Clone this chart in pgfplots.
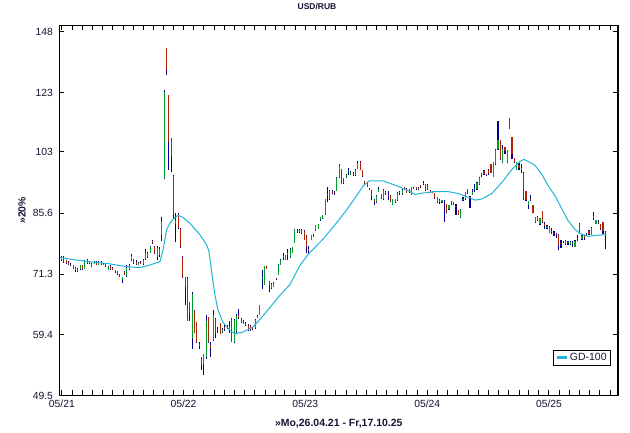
\documentclass[border=0pt]{standalone}
\usepackage{fontspec}
\setmainfont{Liberation Sans}
\usepackage{pgfplots}
\usepackage{pgfplotstable}
\pgfplotsset{compat=1.18}
\definecolor{upgreen}{RGB}{0,160,40}
\definecolor{downred}{RGB}{175,35,0}
\definecolor{wickblue}{RGB}{0,0,140}
\definecolor{macyan}{RGB}{30,180,215}
\definecolor{txt}{RGB}{20,20,50}

% weekly bars: week index, open, high, low, close
\pgfplotstableread{
i o h l c
0 74.5 75.3 74.2 75.0
1 75.0 75.2 73.8 74.0
2 74.3 74.5 73.5 73.7
3 73.9 74.1 73.4 73.5
4 73.5 73.7 73.1 73.2
5 73.2 73.3 72.4 72.5
6 72.6 72.8 71.7 72.1
7 71.9 72.6 71.8 72.5
8 72.5 73.3 72.2 73.2
9 73.2 73.3 72.3 72.4
10 72.5 74.3 72.4 74.2
11 74.4 74.6 73.6 73.7
12 73.8 74.2 73.6 73.9
13 73.0 73.7 72.9 73.6
14 73.6 74.2 73.5 74.0
15 74.0 74.1 73.2 73.3
16 73.3 74.1 73.2 74.0
17 74.0 74.1 73.4 73.5
18 73.3 73.8 73.2 73.6
19 73.5 73.6 72.9 73.0
20 72.3 73.0 72.2 72.9
21 73.0 73.3 72.3 72.5
22 72.6 72.8 72.1 72.2
23 72.1 72.2 71.6 71.7
24 71.9 72.0 71.2 71.3
25 71.3 71.4 70.8 70.9
26 70.0 70.8 69.4 70.6
27 71.8 71.9 71.2 71.3
28 71.0 73.2 70.7 72.6
29 72.5 73.6 72.3 73.4
30 74.3 75.7 74.1 75.2
31 74.5 74.7 73.6 73.8
32 74.0 74.3 73.4 73.6
33 73.3 73.9 73.2 73.8
34 74.0 74.2 73.5 73.6
35 73.6 74.7 73.4 74.5
36 74.6 76.9 74.4 76.1
37 75.0 76.2 74.9 76.1
38 76.1 77.6 76.0 77.4
39 78.8 79.0 78.1 78.2
40 77.3 77.5 75.8 75.9
41 75.0 77.5 74.3 77.2
42 75.5 77.3 75.0 77.0
43 80.1 84.6 78.9 83.3
44 95.3 123.9 95.0 123.5
45 140.7 140.8 130.0 131.6
46 122.1 122.2 97.4 106.0
47 107.3 107.4 97.1 101.6
48 95.9 96.0 84.2 85.5
49 84.0 85.8 78.6 83.0
50 85.5 85.7 81.6 81.8
51 81.6 81.8 77.2 77.3
52 75.0 75.2 70.5 70.6
53 70.6 70.8 64.9 68.5
54 70.4 70.6 61.9 62.0
55 65.5 65.6 62.0 63.5
56 58.9 67.5 56.9 67.2
57 63.9 64.0 59.7 59.8
58 61.7 61.8 58.0 58.1
59 57.8 58.1 57.0 57.5
60 55.5 55.6 53.4 54.2
61 54.4 56.0 52.7 56.0
62 55.5 63.1 55.3 62.0
63 62.6 62.7 58.0 58.1
64 57.6 58.1 55.5 57.1
65 58.4 64.0 58.3 63.1
66 62.3 62.4 58.9 59.8
67 60.5 60.9 59.8 60.2
68 61.5 61.6 59.5 59.6
69 59.9 60.6 59.8 60.3
70 60.8 61.2 60.0 60.5
71 61.0 61.2 60.4 60.6
72 60.4 61.9 59.8 60.8
73 62.3 62.4 58.1 58.2
74 58.2 62.3 58.0 62.2
75 60.0 63.3 59.7 62.8
76 63.1 64.3 62.3 62.4
77 62.3 62.5 61.6 61.7
78 62.0 62.2 61.3 61.4
79 61.5 61.8 61.0 61.2
80 61.2 61.3 60.1 60.3
81 61.0 61.1 60.1 60.2
82 60.8 60.9 60.3 60.4
83 60.6 62.3 60.5 62.2
84 62.5 63.1 62.4 62.8
85 63.1 65.0 63.0 64.9
86 70.3 72.2 68.2 70.6
87 69.1 73.1 69.0 73.0
88 73.0 73.1 72.4 72.5
89 69.8 69.9 67.5 68.9
90 68.3 69.4 68.2 69.3
91 68.7 69.6 68.6 69.5
92 70.4 70.5 70.1 70.2
93 71.2 73.5 71.1 73.4
94 73.4 74.6 73.3 74.5
95 75.0 75.9 74.4 75.3
96 74.5 75.6 74.4 75.5
97 75.5 76.8 74.5 75.9
98 75.0 77.1 74.9 77.0
99 76.1 77.4 76.0 77.3
100 78.4 81.6 78.3 81.5
101 81.0 81.6 80.8 81.3
102 81.5 81.6 80.8 80.9
103 81.4 81.6 80.4 80.6
104 81.3 81.4 79.0 79.1
105 80.0 80.2 75.9 77.4
106 77.0 77.7 75.7 76.5
107 79.1 80.3 79.0 80.2
108 80.3 80.4 79.7 79.8
109 81.4 82.7 81.3 82.6
110 81.7 82.9 81.6 82.8
111 83.8 84.7 83.7 84.6
112 84.3 85.3 84.2 85.2
113 85.4 89.4 85.3 89.3
114 90.5 92.6 88.5 90.8
115 89.3 91.8 89.2 91.7
116 91.6 91.8 90.7 91.0
117 91.2 91.6 90.4 91.0
118 91.7 95.4 91.6 95.3
119 95.4 99.2 95.3 99.1
120 97.7 97.9 93.4 93.5
121 95.1 95.2 93.6 93.7
122 95.4 96.3 95.3 96.2
123 97.0 98.0 96.2 97.3
124 96.2 97.2 96.1 97.1
125 96.5 96.9 95.9 96.6
126 96.0 97.8 95.9 97.6
127 97.8 100.1 97.7 99.5
128 100.0 100.1 97.4 97.5
129 97.5 97.6 95.6 95.7
130 94.3 94.4 93.5 93.6
131 94.0 94.1 92.6 92.7
132 92.3 92.4 91.9 92.0
133 91.8 91.9 89.0 90.1
134 89.0 89.4 87.8 88.6
135 88.5 90.4 88.4 90.3
136 91.3 92.6 91.2 92.2
137 90.7 90.8 89.5 89.6
138 89.3 92.0 89.2 91.9
139 91.0 91.7 90.4 91.2
140 90.5 91.7 89.0 90.2
141 90.3 90.4 88.7 88.8
142 87.8 89.4 87.7 89.3
143 88.5 89.4 88.4 89.3
144 89.0 91.2 88.9 91.1
145 91.0 91.6 90.5 91.3
146 90.7 92.0 90.6 91.9
147 92.6 92.7 92.0 92.1
148 92.0 92.3 90.9 91.0
149 92.0 92.1 91.1 91.2
150 90.6 92.7 90.5 92.6
151 92.3 92.7 92.0 92.4
152 92.6 92.7 91.9 92.0
153 92.2 92.6 91.9 92.3
154 93.1 93.2 92.5 92.6
155 93.6 94.3 93.1 93.8
156 93.4 93.5 91.7 91.8
157 93.2 93.4 91.9 92.0
158 91.7 91.8 90.9 91.0
159 91.4 91.5 90.9 91.0
160 90.9 91.0 89.5 89.6
161 88.5 89.9 88.4 89.8
162 89.0 89.3 88.0 88.7
163 88.5 89.1 88.4 89.0
164 88.4 89.0 83.3 88.1
165 88.0 88.1 85.8 85.9
166 86.7 87.8 86.6 87.7
167 88.8 88.9 87.9 88.0
168 88.5 88.6 87.7 87.8
169 87.5 88.0 85.2 87.2
170 86.4 86.5 85.1 85.2
171 84.6 86.7 84.5 86.6
172 89.3 89.8 88.8 89.5
173 89.3 91.3 89.2 91.2
174 92.0 92.1 90.8 90.9
175 90.0 90.1 86.9 89.6
176 90.6 92.0 90.5 91.4
177 92.3 93.4 91.2 92.5
178 92.0 94.0 91.9 93.9
179 93.4 95.4 93.3 95.3
180 96.0 96.8 95.6 96.3
181 97.3 97.4 96.2 96.3
182 96.3 96.4 95.8 96.1
183 97.4 97.7 96.2 96.8
184 99.2 99.3 96.7 96.8
185 95.6 99.9 95.5 99.8
186 99.2 103.8 99.1 103.7
187 103.8 112.9 103.6 106.6
188 106.6 106.7 100.6 100.7
189 99.8 105.3 99.7 103.8
190 104.4 104.5 102.2 103.2
191 99.8 103.6 99.7 103.5
192 113.9 114.0 110.4 110.5
193 107.6 107.7 100.7 102.5
194 101.0 101.2 99.7 99.9
195 97.6 100.0 97.5 99.8
196 99.0 99.5 97.6 98.2
197 98.0 99.2 96.8 97.5
198 96.8 96.9 89.2 89.3
199 91.5 91.7 88.9 89.0
200 87.8 88.9 86.8 88.8
201 89.5 90.4 88.8 89.2
202 87.8 87.9 85.6 85.7
203 83.3 84.7 83.2 84.6
204 83.8 84.9 83.7 84.8
205 82.8 84.4 82.7 84.3
206 86.2 86.3 83.2 83.3
207 82.9 83.3 81.7 82.3
208 81.8 82.6 81.7 82.5
209 80.8 82.3 80.7 82.2
210 81.3 81.8 80.5 81.0
211 80.7 81.1 79.9 80.4
212 80.5 80.8 79.6 80.2
213 80.3 80.4 76.6 77.9
214 78.3 79.1 77.2 78.0
215 78.7 78.9 78.3 78.5
216 78.0 79.0 77.9 78.9
217 78.3 78.7 77.9 78.5
218 78.0 78.8 77.9 78.6
219 78.4 78.7 77.3 78.1
220 77.4 79.0 77.3 78.9
221 79.6 80.1 78.9 79.4
222 83.0 83.1 80.7 80.8
223 79.3 80.1 79.1 79.9
224 79.9 80.1 79.0 79.6
225 80.1 80.6 80.0 80.5
226 81.3 81.4 80.2 80.4
227 80.3 82.2 80.2 82.0
228 84.5 85.9 83.8 84.9
229 82.9 83.9 82.8 83.8
230 83.5 83.9 82.8 83.2
231 82.8 82.9 81.5 81.6
232 83.3 83.4 80.4 81.3
233 81.0 81.3 76.8 80.6
}\bars

% GD-100 line: day since 26.04.21, value
\pgfplotstableread{
d v
0 75.0
38 74.5
89 74.0
143 73.6
194 73.0
239 72.7
269 73.3
299 74.0
308 76.5
319 81.4
329 83.1
338 84.1
353 85.1
368 84.6
389 83.1
419 80.3
439 77.9
446 76.5
454 71.9
464 67.0
473 64.1
488 61.7
509 60.2
524 59.6
548 59.9
578 60.8
599 62.2
629 64.5
659 66.9
689 69.1
719 73.2
740 75.3
749 76.1
788 79.2
830 83.3
860 86.6
890 90.4
909 93.0
927 94.4
968 94.4
1010 93.0
1049 91.4
1064 90.6
1079 90.9
1124 91.4
1163 91.4
1193 90.9
1223 89.9
1244 89.1
1265 89.4
1295 90.9
1325 94.0
1355 97.7
1379 100.1
1391 100.7
1409 99.8
1424 98.9
1445 96.2
1463 93.1
1484 90.3
1505 86.7
1523 83.8
1544 81.6
1559 80.6
1583 79.9
1604 80.1
1637 80.3
}\gdline

\begin{document}
\begin{tikzpicture}
\path (-59.5bp,-37bp) rectangle (570.5bp,393bp);
\begin{axis}[
  scale only axis, width=558.5bp, height=370bp,
  at={(0,0)}, anchor=south west,
  ymode=log,
  xmin=-2, xmax=1673, ymin=49.5, ymax=150.7,
  axis line style={line width=1.2bp, draw=black},
  tick align=inside,
  major tick length=5bp, minor tick length=5bp,
  every tick/.style={black, line width=1bp},
  xtick={5,370,735,1101,1466},
  xticklabels={05/21,05/22,05/23,05/24,05/25},
  minor xtick={36,66,97,128,158,189,219,250,281,309,340,401,431,462,493,523,554,584,615,646,674,705,766,796,827,858,888,919,949,980,1011,1040,1071,1132,1162,1193,1224,1254,1285,1315,1346,1377,1405,1436,1497,1527,1558,1589,1619,1650},
  ytick={49.5,59.4,71.3,85.6,103,123,148},
  yticklabels={49.5,59.4,71.3,85.6,103,123,148},
  yminorticks=false,
  ticklabel style={font=\fontsize{10.4}{12}\selectfont, text=txt},
  yticklabel style={xshift=-3bp},
  xticklabel style={yshift=-1bp},
  title={USD/RUB},
  title style={at={(axis description cs:0.461,1)}, anchor=center, yshift=13bp,
    font=\fontsize{8.5}{10}\selectfont\bfseries, text=txt},
  xlabel={»Mo,26.04.21 - Fr,17.10.25},
  xlabel style={at={(axis description cs:0.5,0)}, anchor=center, yshift=-28bp,
    font=\fontsize{10.5}{12}\selectfont\bfseries, text=txt},
  ylabel={»20\%},
  ylabel style={at={(axis description cs:-0.0671,0.5)}, anchor=center,
    font=\fontsize{10.5}{12}\selectfont\bfseries, text=txt},
  legend style={at={(axis description cs:0.9875,0.081)}, anchor=south east,
    draw=black, line width=0.9bp, fill=white, inner xsep=2bp, inner ysep=1bp,
    font=\fontsize{10.5}{12}\selectfont, text=txt},
  legend image code/.code={\draw[#1, line width=2.4bp] (0bp,0bp) -- (10bp,0bp);},
]
% high-low range
\addplot[draw=none, no markers, forget plot,
  error bars/.cd, y dir=plus, y explicit, error mark=none,
  error bar style={draw=wickblue, line width=1.1bp}]
  table[x expr=7*\thisrow{i}+4, y=l, y error plus expr=\thisrow{h}-\thisrow{l}] {\bars};
% rising weeks
\addplot[draw=none, no markers, forget plot,
  restrict expr to domain={\thisrow{c}-\thisrow{o}}{0:1000},
  error bars/.cd, y dir=plus, y explicit, error mark=none,
  error bar style={draw=upgreen, line width=1.1bp}]
  table[x expr=7*\thisrow{i}+4, y=o, y error plus expr=\thisrow{c}-\thisrow{o}] {\bars};
% falling weeks
\addplot[draw=none, no markers, forget plot,
  restrict expr to domain={\thisrow{o}-\thisrow{c}}{0.0001:1000},
  error bars/.cd, y dir=plus, y explicit, error mark=none,
  error bar style={draw=downred, line width=1.1bp}]
  table[x expr=7*\thisrow{i}+4, y=c, y error plus expr=\thisrow{o}-\thisrow{c}] {\bars};
% GD-100
\addplot[macyan, line width=1bp, mark=none] table[x=d, y=v] {\gdline};
\addlegendentry{GD-100}
\end{axis}
\end{tikzpicture}
\end{document}
